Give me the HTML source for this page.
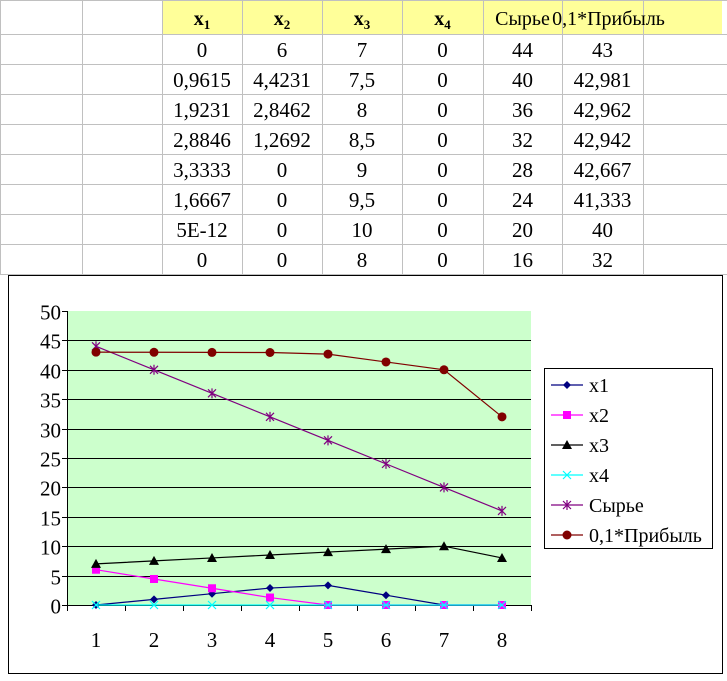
<!DOCTYPE html>
<html><head><meta charset="utf-8"><style>
body{margin:0;width:727px;height:676px;background:#fff;overflow:hidden;}
svg, svg text{font-family:"Liberation Serif","DejaVu Serif",serif !important;}
</style></head><body>
<svg id="s" width="727" height="676" font-family="Liberation Serif, DejaVu Serif, serif">
<g id="table"></g>
<g id="chart"></g>
</svg>
<script>
const headers=["x","x","x","x","Сырье","0,1*Прибыль"];
const subs=["1","2","3","4","",""];
const cells=[["0","6","7","0","44","43"],["0,9615","4,4231","7,5","0","40","42,981"],["1,9231","2,8462","8","0","36","42,962"],["2,8846","1,2692","8,5","0","32","42,942"],["3,3333","0","9","0","28","42,667"],["1,6667","0","9,5","0","24","41,333"],["5E-12","0","10","0","20","40"],["0","0","8","0","16","32"]];
const categories=[1,2,3,4,5,6,7,8];
const sX1=[0,0.9615,1.9231,2.8846,3.3333,1.6667,0,0];
const sX2=[6,4.4231,2.8462,1.2692,0,0,0,0];
const sX3=[7,7.5,8,8.5,9,9.5,10,8];
const sX4=[0,0,0,0,0,0,0,0];
const sRaw=[44,40,36,32,28,24,20,16];
const sProfit=[43,42.981,42.962,42.942,42.667,41.333,40,32];
const yTicks=[0,5,10,15,20,25,30,35,40,45,50];
const NS="http://www.w3.org/2000/svg";
const FF="Liberation Serif, DejaVu Serif, serif";
function mk(p,t,a){const e=document.createElementNS(NS,t);for(const k in a)e.setAttribute(k,a[k]);if(t==='text')e.setAttribute('font-family',FF);p.appendChild(e);return e;}
const T=document.getElementById('table');
const colX=[0,82,162,242,322,402,483,562,643,727];
const rowY=[0,34,64,94,124,154,184,214,244,274];
let r=mk(T,'rect',{x:162,y:0,width:560,height:34,fill:'#ffff99'});


colX.forEach(x=>{const l=mk(T,'line',{x1:x+0.5,y1:0,x2:x+0.5,y2:274,stroke:'#c0c0c0'});});
rowY.forEach(y=>{const l=mk(T,'line',{x1:0,y1:y+0.5,x2:727,y2:y+0.5,stroke:'#c0c0c0'});});
headers.forEach((h,i)=>{const cx=(colX[i+2]+colX[i+3])/2+(i===5?6:0);const t=mk(T,'text',{x:cx,y:25,'text-anchor':'middle','font-size':20,'font-weight':subs[i]?'bold':'normal'});t.textContent=h;
if(subs[i]){const ts=mk(t,'tspan',{dy:4,'font-size':13});ts.textContent=subs[i];}
});
cells.forEach((row,ri)=>row.forEach((v,ci)=>{const cx=(colX[ci+2]+colX[ci+3])/2;const t=mk(T,'text',{x:cx,y:rowY[ri+1]+23,'text-anchor':'middle','font-size':21});t.textContent=v;}));
const C=document.getElementById('chart');
let b=mk(C,'rect',{x:8.5,y:275.5,width:714,height:398,fill:'#fff',stroke:'#000'});

const L=67,R=531,TOP=311,BOT=605;
const yS=v=>BOT-(v/50)*(BOT-TOP);
const xS=i=>L+(R-L)/8*(i+0.5);
let pa=mk(C,'rect',{x:L,y:TOP,width:R-L,height:BOT-TOP,fill:'#ccffcc'});

yTicks.forEach(v=>{const y=Math.round(yS(v))+0.5;
if(v>0&&v<50){const g=mk(C,'line',{x1:L,y1:y,x2:R,y2:y,stroke:'#000'});}
const tk=mk(C,'line',{x1:L-5,y1:y,x2:L,y2:y,stroke:'#000'});
const t=mk(C,'text',{x:L-6,y:y+8,'text-anchor':'end','font-size':21});t.textContent=v;});
let ax=mk(C,'line',{x1:L+0.5,y1:TOP,x2:L+0.5,y2:BOT,stroke:'#000'});
let xa=mk(C,'line',{x1:L,y1:BOT+0.5,x2:R,y2:BOT+0.5,stroke:'#000'});
for(let i=0;i<=8;i++){const x=Math.round(L+(R-L)/8*i)+0.5;const tk=mk(C,'line',{x1:x,y1:BOT,x2:x,y2:BOT+6,stroke:'#000'});}
categories.forEach((c,i)=>{const t=mk(C,'text',{x:xS(i),y:647,'text-anchor':'middle','font-size':21});t.textContent=c;});
function marker(g,type,x,y,col){
 if(type==='diamond')mk(g,'polygon',{points:`${x},${y-4} ${x+4},${y} ${x},${y+4} ${x-4},${y}`,fill:col});
 else if(type==='square')mk(g,'rect',{x:x-4,y:y-4,width:8,height:8,fill:col});
 else if(type==='tri')mk(g,'polygon',{points:`${x},${y-5} ${x+5},${y+4} ${x-5},${y+4}`,fill:col});
 else if(type==='x'){mk(g,'path',{d:`M${x-4},${y-4}L${x+4},${y+4}M${x+4},${y-4}L${x-4},${y+4}`,stroke:col,'stroke-width':1.2});}
 else if(type==='star'){mk(g,'path',{d:`M${x-4},${y-4}L${x+4},${y+4}M${x+4},${y-4}L${x-4},${y+4}M${x},${y-5}L${x},${y+5}`,stroke:col,'stroke-width':1.2});}
 else if(type==='circle')mk(g,'circle',{cx:x,cy:y,r:4.5,fill:col});
}
const series=[["x1",sX1,'#000080','diamond'],["x2",sX2,'#ff00ff','square'],["x3",sX3,'#000000','tri'],["x4",sX4,'#00ffff','x'],["Сырье",sRaw,'#800080','star'],["0,1*Прибыль",sProfit,'#800000','circle']];
series.forEach(([name,vals,col,m],si)=>{
 const g=mk(C,'g',{});
 const l=mk(g,'polyline',{points:vals.map((v,i)=>xS(i)+','+yS(v)).join(' '),fill:'none',stroke:col,'stroke-width':1.2});
 
 vals.forEach((v,i)=>marker(g,m,xS(i),yS(v),col));
});
const lg=mk(C,'g',{});
mk(lg,'rect',{x:544.5,y:368.5,width:168,height:180,fill:'#fff',stroke:'#000'});
series.forEach(([name,vals,col,m],i)=>{const y=385+i*30;
 const e=mk(lg,'g',{});
 mk(e,'line',{x1:551,y1:y,x2:583,y2:y,stroke:col,'stroke-width':1.2});marker(e,m,567,y,col);
 const t=mk(e,'text',{x:589,y:y+7,'font-size':20});t.textContent=name;});
</script>
</body></html>
